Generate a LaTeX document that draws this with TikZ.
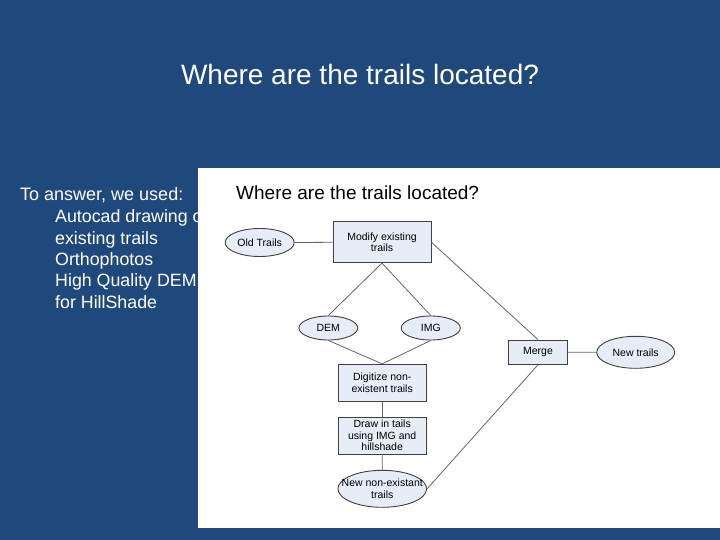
\documentclass[tikz,border=0pt]{standalone}
\usepackage{fontspec}
\setmainfont{Liberation Sans}
\usetikzlibrary{shapes.geometric}
\definecolor{slideblue}{RGB}{31,73,125}
\definecolor{boxfill}{RGB}{232,236,247}

\begin{document}
\begin{tikzpicture}[x=1pt, y=-1pt,
    box/.style={draw=black!75, fill=boxfill, line width=0.9pt, inner sep=0pt,
        align=center, font=\fontsize{10.5}{11.5}\selectfont},
    oval/.style={ellipse, draw=black!75, fill=boxfill, line width=0.9pt, inner sep=0pt,
        align=center, font=\fontsize{10.5}{11.5}\selectfont},
    link/.style={draw=black!60, line width=0.8pt}]
    \useasboundingbox (0,0) rectangle (720,540);
    \fill[slideblue] (0,0) rectangle (720,540);

    % slide text
    \node[anchor=base, text=white, font=\fontsize{28}{34}\selectfont] (title) at (360,85)
        {Where are the trails located?};
    \node[anchor=base west, inner sep=0pt, text=white, font=\fontsize{18}{21.3}\selectfont] (intro)
        at (20,200.7) {To answer, we used:};
    \node[anchor=north west, inner sep=0pt, align=left, text=white, font=\fontsize{17.8}{21.3}\selectfont] (used)
        at (55,209.8) {Autocad drawing of\\existing trails\\Orthophotos\\High Quality DEM\\for HillShade};

    % the pasted diagram
    \fill[white] (198,168) rectangle (720,528);
    \node[anchor=base west, inner sep=0pt, font=\fontsize{19}{23}\selectfont] (chart) at (236,200)
        {Where are the trails located?};

    \node[oval, minimum width=69pt, minimum height=28pt] (old) at (259.7,242.5) {Old Trails};
    \node[box, minimum width=98pt, minimum height=40.7pt] (modify) at (382,242.3) {Modify existing\\trails};
    \node[oval, minimum width=58.7pt, minimum height=24pt] (dem) at (328.3,328) {DEM};
    \node[oval, minimum width=59pt, minimum height=24pt] (img) at (430.8,328) {IMG};
    \node[box, minimum width=58.7pt, minimum height=24.3pt] (merge) at (538,352.2) {Merge};
    \node[oval, minimum width=78pt, minimum height=32pt] (newtrails) at (635.7,352.3) {New trails};
    \node[box, minimum width=88.3pt, minimum height=37pt] (digitize) at (382.2,382.8) {Digitize non-\\existent trails};
    \node[box, minimum width=88.3pt, minimum height=37pt] (drawin) at (382.2,435.5) {Draw in tails\\using IMG and\\hillshade};
    \node[oval, inner xsep=-16pt, minimum width=88.7pt, minimum height=37pt] (newnon) at (382.3,488.8)
        {New non-existant\\trails};

    \draw[link] (old.east) -- (modify.west);
    \draw[link] (modify.south) -- (dem.north);
    \draw[link] (modify.south) -- (img.north);
    \draw[link] (modify.east) -- (merge.north);
    \draw[link] (dem.south) -- (digitize.north);
    \draw[link] (img.south) -- (digitize.north);
    \draw[link] (digitize.south) -- (drawin.north);
    \draw[link] (drawin.south) -- (newnon.north);
    \draw[link] (merge.south) -- (newnon.east);
    \draw[link] (merge.east) -- (newtrails.west);
\end{tikzpicture}
\end{document}
